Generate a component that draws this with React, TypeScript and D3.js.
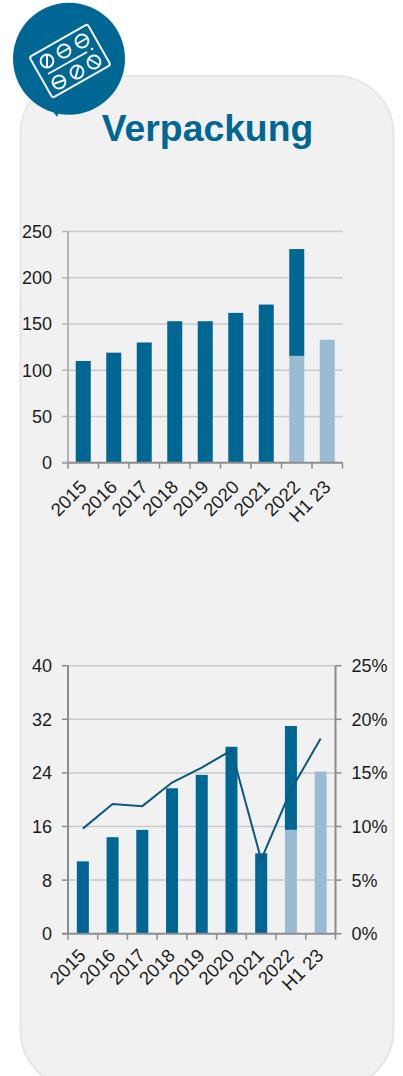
import React from 'react';
import * as d3 from 'd3';

const categories = ['2015', '2016', '2017', '2018', '2019', '2020', '2021', '2022', 'H1 23'];

// top chart
const salesDark = [110, 119, 130, 153, 153, 162, 171, 115.5, 0];
const salesLight = [0, 0, 0, 0, 0, 0, 0, 115.5, 133];
const salesTicks = [0, 50, 100, 150, 200, 250];

// bottom chart
const ebitDark = [10.8, 14.4, 15.5, 21.7, 23.7, 27.9, 12, 15.5, 0];
const ebitLight = [0, 0, 0, 0, 0, 0, 0, 15.5, 24.2];
const marginPct = [9.8, 12.1, 11.9, 14.1, 15.5, 17.1, 6.9, 13.4, 18.2];
const ebitTicks = [0, 8, 16, 24, 32, 40];
const marginTicks = [0, 5, 10, 15, 20, 25];

const BLUE = '#006795';
const LIGHT = '#9abcd3';
const LINE = '#0b5a7e';
const FONT = '"Liberation Sans", Arial, sans-serif';
const TEXT = '#1c1c1c';

type ChartProps = {
  x0: number;
  x1: number;
  yTop: number;
  yBottom: number;
  yMax: number;
  barW: number;
  axisColor: string;
  dark: number[];
  light: number[];
  ticks: number[];
  labelDx: number;
  labelDy: number;
};

const BarChart = ({ x0, x1, yTop, yBottom, yMax, barW, axisColor, dark, light, ticks, labelDx, labelDy }: ChartProps) => {
  const x = d3.scaleBand<string>().domain(categories).range([x0, x1]);
  const y = d3.scaleLinear().domain([0, yMax]).range([yBottom, yTop]);
  const bw = x.bandwidth();
  const edges = categories.map((c) => x(c) as number).concat(x1);

  return (
    <g>
      {ticks.slice(1).map((t) => (
        <line key={t} x1={x0} x2={x1} y1={y(t)} y2={y(t)} stroke="#c9c9c9" strokeWidth={1.5} />
      ))}
      {categories.map((c, i) => {
        const left = (x(c) as number) + (bw - barW) / 2;
        return (
          <g key={c}>
            {light[i] > 0 && (
              <rect x={left} width={barW} y={y(light[i])} height={y(0) - y(light[i])} fill={LIGHT} />
            )}
            {dark[i] > 0 && (
              <rect
                x={left}
                width={barW}
                y={y(dark[i] + light[i])}
                height={y(0) - y(dark[i])}
                fill={BLUE}
              />
            )}
          </g>
        );
      })}
      <line x1={x0} x2={x0} y1={yTop} y2={yBottom} stroke={axisColor} strokeWidth={2} />
      <line x1={x0 - 6} x2={x1} y1={yBottom} y2={yBottom} stroke="#8c8c8c" strokeWidth={2} />
      {ticks.map((t) => (
        <g key={t}>
          <line x1={x0 - 6} x2={x0} y1={y(t)} y2={y(t)} stroke={axisColor} strokeWidth={1.5} />
          <text x={x0 - 16} y={y(t) + 6.5} textAnchor="end" fontSize={18} fill={TEXT}>
            {t}
          </text>
        </g>
      ))}
      {edges.map((e, i) => (
        <line key={i} x1={e} x2={e} y1={yBottom} y2={yBottom + 6} stroke="#8c8c8c" strokeWidth={1.5} />
      ))}
      {categories.map((c) => {
        const px = (x(c) as number) + bw / 2 + labelDx;
        const py = yBottom + labelDy;
        return (
          <text key={c} transform={`translate(${px},${py}) rotate(-45)`} textAnchor="end" fontSize={18.6} fill={TEXT}>
            {c}
          </text>
        );
      })}
    </g>
  );
};

const MarginLine = ({ x0, x1, yTop, yBottom }: { x0: number; x1: number; yTop: number; yBottom: number }) => {
  const x = d3.scaleBand<string>().domain(categories).range([x0, x1]);
  const y = d3.scaleLinear().domain([0, 25]).range([yBottom, yTop]);
  const path = d3
    .line<number>()
    .x((_, i) => (x(categories[i]) as number) + x.bandwidth() / 2)
    .y((d) => y(d))(marginPct);

  return (
    <g>
      <path d={path as string} fill="none" stroke={LINE} strokeWidth={2} />
      <line x1={x1} x2={x1} y1={yTop} y2={yBottom} stroke="#8c8c8c" strokeWidth={2} />
      {marginTicks.map((t) => (
        <g key={t}>
          <line x1={x1} x2={x1 + 6} y1={y(t)} y2={y(t)} stroke="#8c8c8c" strokeWidth={1.5} />
          <text x={x1 + 16} y={y(t) + 6.5} textAnchor="start" fontSize={18} fill={TEXT}>
            {t}%
          </text>
        </g>
      ))}
    </g>
  );
};

// cx, cy, score angle
const pills: [number, number, number][] = [
  [47, 61, 90],
  [64, 51, -30],
  [82, 41, -30],
  [59, 82, -20],
  [77, 72, -75],
  [94, 62, 30],
];

// blister pack in the round badge
const Badge = () => (
  <g>
    <path d="M52 110 L57 117 L60 110 Z" fill={BLUE} />
    <circle cx={69} cy={58.7} r={56} fill={BLUE} />
    <rect
      x={36.6}
      y={37.5}
      width={66.8}
      height={47}
      rx={2.5}
      transform="rotate(-29.6 70 61)"
      fill="none"
      stroke="#f4f8fa"
      strokeWidth={2}
    />
    <line x1={48} y1={74} x2={87} y2={52} stroke="#f4f8fa" strokeWidth={2} />
    <circle cx={92} cy={49} r={1.3} fill="#f4f8fa" />
    {pills.map(([cx, cy, a]) => (
      <g key={`${cx}-${cy}`} transform={`translate(${cx},${cy}) rotate(${a})`}>
        <circle r={6.4} fill="none" stroke="#f4f8fa" strokeWidth={2} />
        <line x1={-6} x2={6} stroke="#f4f8fa" strokeWidth={2} />
      </g>
    ))}
  </g>
);

const App = () => (
  <svg
    width={403}
    height={1076}
    viewBox="0 0 403 1076"
    style={{ position: 'absolute', left: 0, top: 0, display: 'block' }}
    fontFamily={FONT}
  >
    <rect x={20.5} y={76} width={373} height={1012} rx={58} fill="#f1f1f1" stroke="#e6e6e6" strokeWidth={2} />
    <Badge />
    <text x={207.5} y={141} textAnchor="middle" fontSize={37.3} fontWeight="bold" fill={BLUE}>
      Verpackung
    </text>
    <BarChart
      x0={68}
      x1={342.5}
      yTop={231.5}
      yBottom={462.7}
      yMax={250}
      barW={15}
      axisColor="#b5b5b5"
      dark={salesDark}
      light={salesLight}
      ticks={salesTicks}
      labelDx={4.5}
      labelDy={25.5}
    />
    <BarChart
      x0={68}
      x1={335.5}
      yTop={665.7}
      yBottom={933.7}
      yMax={40}
      barW={12}
      axisColor="#8c8c8c"
      dark={ebitDark}
      light={ebitLight}
      ticks={ebitTicks}
      labelDx={4}
      labelDy={23}
    />
    <MarginLine x0={68} x1={335.5} yTop={665.7} yBottom={933.7} />
  </svg>
);

export default App;
